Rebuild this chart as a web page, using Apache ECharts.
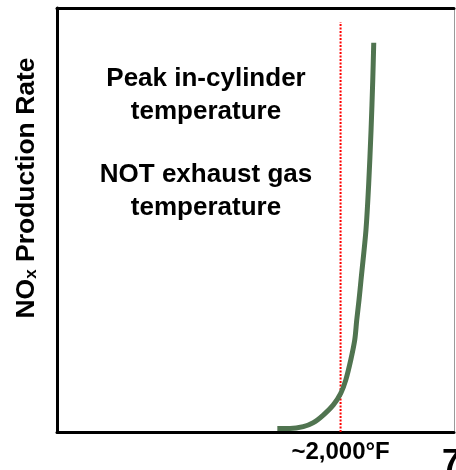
<!DOCTYPE html>
<html>
<head>
<meta charset="utf-8">
<script src="https://cdn.jsdelivr.net/npm/echarts@6/dist/echarts.min.js"></script>
<style>
  html, body { margin: 0; padding: 0; background: #ffffff; }
  #chart { width: 456px; height: 470px; }
</style>
</head>
<body>
<div id="chart"></div>
<script>
// NOx production rate versus peak in-cylinder temperature (°F)
const tempF = [1554, 1643, 1737, 1808, 1878, 1949, 2001, 2037, 2072, 2100, 2114, 2130, 2144, 2179, 2198, 2215, 2227, 2234];
const noxRate = [0.8, 0.8, 1.25, 2.2, 4.0, 6.4, 9.1, 12.3, 17.0, 21.7, 26.4, 31.1, 35.8, 47.6, 58.3, 71.2, 83.0, 91.8];

// Reference temperature marker
const refTemp = 2000;
const refTop = 96.7;

// Tick labels on the temperature axis
const xTickValues = [2000];
const xTickLabels = ['~2,000°F'];

// Annotation blocks
const noteLines1 = ['Peak in-cylinder', 'temperature'];
const noteLines2 = ['NOT exhaust gas', 'temperature'];
const yAxisTitle = ['NO', 'x', ' Production Rate'];
const pageNumber = '7';

const FONT = "'Liberation Sans', Arial, Helvetica, sans-serif";

const chart = echarts.init(document.getElementById('chart'), null, { renderer: 'canvas' });

const curveData = tempF.map((t, i) => [t, noxRate[i]]);

chart.setOption({
  animation: false,
  backgroundColor: '#ffffff',
  textStyle: { fontFamily: FONT },
  grid: { left: 57, right: 2, top: 8, bottom: 38, containLabel: false, outerBoundsMode: 'none' },
  title: [
    {
      text: noteLines1.join('\n'),
      left: 206, top: 62, textAlign: 'center', padding: 0,
      textStyle: { fontFamily: FONT, fontSize: 26, fontWeight: 'bold', color: '#000', lineHeight: 33 }
    },
    {
      text: noteLines2.join('\n'),
      left: 206, top: 158, textAlign: 'center', padding: 0,
      textStyle: { fontFamily: FONT, fontSize: 26, fontWeight: 'bold', color: '#000', lineHeight: 33 }
    },
    {
      text: pageNumber,
      left: 442, top: 446, padding: 0,
      textStyle: { fontFamily: FONT, fontSize: 34, fontWeight: 'bold', color: '#000' }
    }
  ],
  xAxis: [
    {
      type: 'value', min: 0, max: 2800, position: 'bottom',
      axisLine: { show: true, onZero: false, lineStyle: { color: '#000', width: 3 } },
      axisTick: { show: false },
      splitLine: { show: false },
      axisLabel: {
        show: true,
        customValues: xTickValues,
        formatter: (v) => xTickLabels[xTickValues.indexOf(v)] || '',
        margin: 8,
        fontFamily: FONT, fontSize: 24, fontWeight: 'bold', color: '#000'
      }
    },
    {
      type: 'value', min: 0, max: 2800, position: 'top',
      axisLine: { show: true, onZero: false, lineStyle: { color: '#000', width: 3 } },
      axisTick: { show: false }, axisLabel: { show: false }, splitLine: { show: false }
    }
  ],
  yAxis: [
    {
      type: 'value', min: 0, max: 100, position: 'left',
      axisLine: { show: true, onZero: false, lineStyle: { color: '#000', width: 3 } },
      axisTick: { show: false }, axisLabel: { show: false }, splitLine: { show: false },
      name: '{a|' + yAxisTitle[0] + '}{s|' + yAxisTitle[1] + '}{a|' + yAxisTitle[2] + '}',
      nameLocation: 'middle',
      nameGap: 17,
      nameTextStyle: {
        padding: [0, 0, 0, 64],
        rich: {
          a: { fontFamily: FONT, fontSize: 26.5, fontWeight: 'bold', color: '#000' },
          s: { fontFamily: FONT, fontSize: 17, fontWeight: 'bold', color: '#000', verticalAlign: 'bottom', padding: [10, 0, 0, 0] }
        }
      }
    },
    {
      type: 'value', min: 0, max: 100, position: 'right',
      axisLine: { show: true, onZero: false, lineStyle: { color: '#9a9a9a', width: 1 } },
      axisTick: { show: false }, axisLabel: { show: false }, splitLine: { show: false }
    }
  ],
  series: [
    {
      type: 'line',
      data: [[refTemp, 0], [refTemp, refTop]],
      symbol: 'none',
      silent: true,
      lineStyle: { color: '#ff0000', width: 2, type: [2, 1.5] },
      z: 2
    },
    {
      type: 'line',
      data: curveData,
      symbol: 'none',
      smooth: 0.3,
      silent: true,
      lineStyle: { color: '#507450', width: 5, cap: 'butt', join: 'round' },
      z: 3
    }
  ]
});
</script>
</body>
</html>
